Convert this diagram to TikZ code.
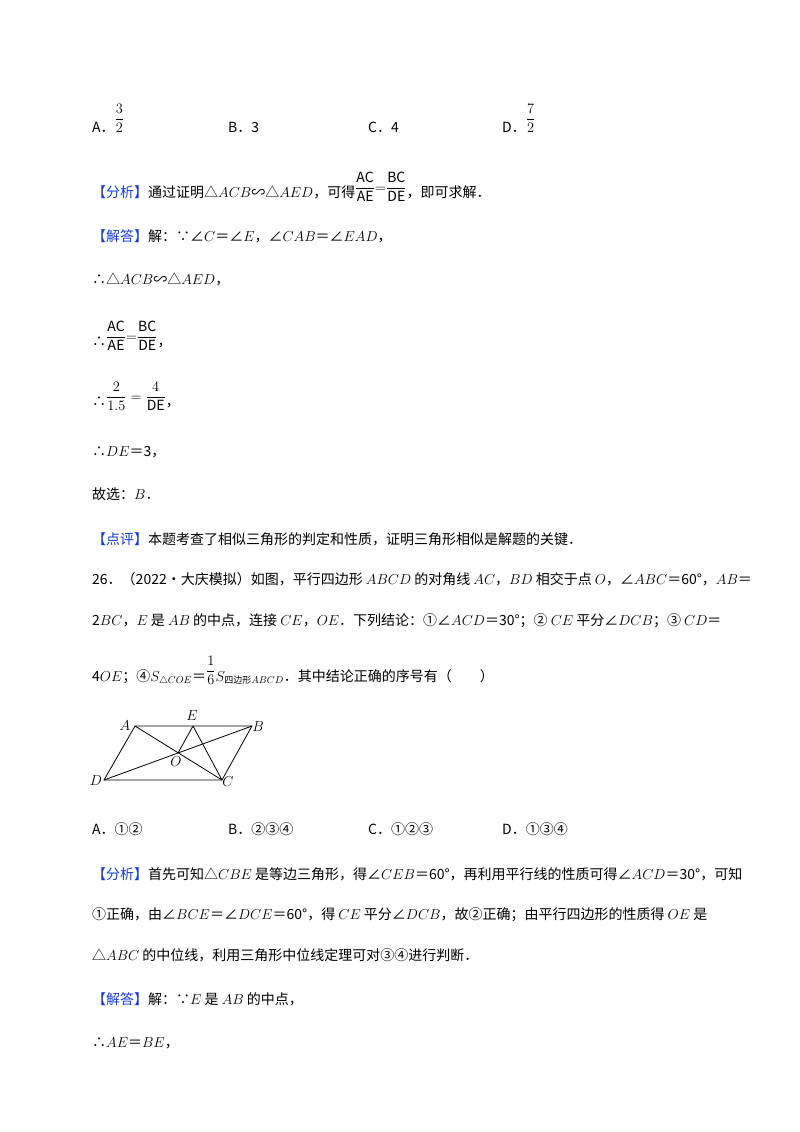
\documentclass[tikz,border=0pt]{standalone}
\usepackage{fontspec}
\setmainfont{Noto Sans CJK SC}
\usepackage{amsmath}
\definecolor{kw}{RGB}{20,60,230}
\begin{document}
\begin{tikzpicture}[x=1pt,y=-1pt,
  t/.style={anchor=base west,inner sep=0pt,font=\fontsize{14}{16}\selectfont},
  lab/.style={inner sep=0pt,font=\fontsize{14}{16}\selectfont},
  fig/.style={line width=0.8pt}]
\useasboundingbox (0,0) rectangle (800,1132);
\node[t] (a1) at (92,132) {A．\raisebox{9pt}{$\dfrac{3}{2}$}};
\node[t] (a2) at (228,132) {B．3};
\node[t] (a3) at (368,132) {C．4};
\node[t] (a4) at (502,132) {D．\raisebox{9pt}{$\dfrac{7}{2}$}};
\node[t] (l1) at (92,197) {\textcolor{kw}{【分析】}通过证明△$ACB$∽△$AED$，可得\raisebox{5pt}{$\dfrac{\mathrm{AC}}{\mathrm{AE}}{=}\dfrac{\mathrm{BC}}{\mathrm{DE}}$}，即可求解．};
\node[t] (l2) at (92,241) {\textcolor{kw}{【解答】}解：∵∠$C$＝∠$E$，∠$CAB$＝∠$EAD$，};
\node[t] (l3) at (92,284) {∴△$ACB$∽△$AED$，};
\node[t] (l4) at (92,346) {∴\raisebox{5pt}{$\dfrac{\mathrm{AC}}{\mathrm{AE}}{=}\dfrac{\mathrm{BC}}{\mathrm{DE}}$}，};
\node[t] (l5) at (92,406) {∴\raisebox{5pt}{$\dfrac{2}{1.5}=\dfrac{4}{\mathrm{DE}}$}，};
\node[t] (l6) at (92,456) {∴$DE$＝3，};
\node[t] (l7) at (92,499) {故选：$B$．};
\node[t] (l8) at (92,544) {\textcolor{kw}{【点评】}本题考查了相似三角形的判定和性质，证明三角形相似是解题的关键．};
\node[t] (q1) at (92,584) {26．（2022•大庆模拟）如图，平行四边形 $ABCD$ 的对角线 $AC$，$BD$ 相交于点 $O$，∠$ABC$＝60°，$AB$＝};
\node[t] (q2) at (92,625) {2$BC$，$E$ 是 $AB$ 的中点，连接 $CE$，$OE$．下列结论：①∠$ACD$＝30°；② $CE$ 平分∠$DCB$；③ $CD$＝};
\node[t] (q3) at (92,681) {4$OE$；④$S_{\triangle COE}$＝\raisebox{6pt}{$\dfrac{1}{6}$}$S_{\text{\fontsize{9}{10}\selectfont 四边形}ABCD}$．其中结论正确的序号有（　　）};
\coordinate (A) at (135,726);
\coordinate (E) at (193,726);
\coordinate (B) at (252,726);
\coordinate (D) at (104,780);
\coordinate (C) at (222,780);
\coordinate (O) at (178,753);
\draw[fig] (A)--(B)--(C)--(D)--cycle;
\draw[fig] (A)--(C) (B)--(D) (E)--(C) (E)--(O);
\node[lab] (nA) at (125,726) {$A$};
\node[lab] (nE) at (192,716) {$E$};
\node[lab] (nB) at (258,727) {$B$};
\node[lab] (nD) at (96,781) {$D$};
\node[lab] (nC) at (228,782) {$C$};
\node[lab] (nO) at (176,762) {$O$};
\node[t] (c1) at (92,834) {A．①②};
\node[t] (c2) at (228,834) {B．②③④};
\node[t] (c3) at (368,834) {C．①②③};
\node[t] (c4) at (502,834) {D．①③④};
\node[t] (m1) at (92,879) {\textcolor{kw}{【分析】}首先可知△$CBE$ 是等边三角形，得∠$CEB$＝60°，再利用平行线的性质可得∠$ACD$＝30°，可知};
\node[t] (m2) at (92,919) {①正确，由∠$BCE$＝∠$DCE$＝60°，得 $CE$ 平分∠$DCB$，故②正确；由平行四边形的性质得 $OE$ 是};
\node[t] (m3) at (92,960) {△$ABC$ 的中位线，利用三角形中位线定理可对③④进行判断．};
\node[t] (m4) at (92,1004) {\textcolor{kw}{【解答】}解：∵$E$ 是 $AB$ 的中点，};
\node[t] (m5) at (92,1047) {∴$AE$＝$BE$，};
\end{tikzpicture}
\end{document}
